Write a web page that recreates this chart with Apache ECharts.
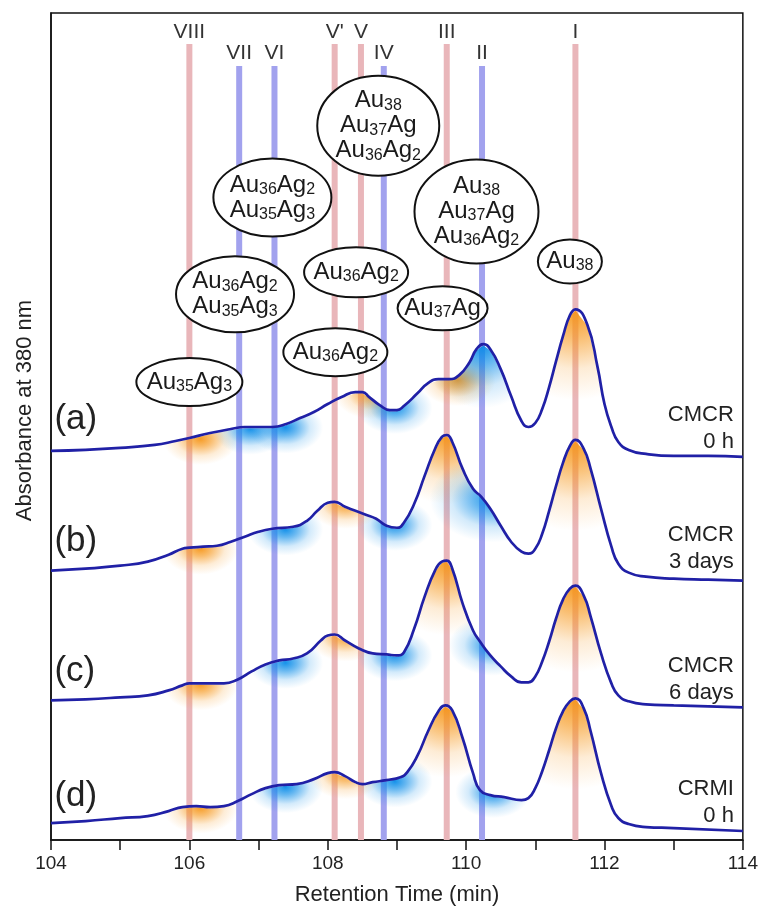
<!DOCTYPE html>
<html><head><meta charset="utf-8">
<script src="https://cdn.jsdelivr.net/npm/echarts@6/dist/echarts.min.js"></script>
<style>html,body{margin:0;padding:0;background:#fff}#c{width:761px;height:911px}</style>
</head><body><div id="c"></div>
<script>
// ---- data (retention time in min, absorbance in arbitrary units incl. vertical offset) ----
const timeA = [104.0,104.5,105.0,105.5,105.8,106.0,106.3,106.6,106.8,107.0,107.2,107.4,107.6,107.8,108.0,108.2,108.4,108.5,108.6,108.75,108.9,109.0,109.1,109.3,109.45,109.6,109.75,109.9,110.05,110.15,110.25,110.35,110.5,110.65,110.8,110.9,111.0,111.1,111.2,111.3,111.4,111.5,111.58,111.75,111.9,112.0,112.1,112.2,112.35,112.6,113.0,113.5,114.0];
const absA  = [390,391,393,396,400,403,408,412,414,414,414,417,423,429,437,444,449,449,444,436,431,431,435,448,458,462,462,466,479,492,497,492,472,445,420,414,418,432,454,480,505,526,532,517,474,437,414,399,391,387,385,385,384];

const timeB = [104.0,104.5,105.0,105.4,105.7,105.9,106.0,106.2,106.4,106.6,106.8,107.0,107.2,107.5,107.7,107.85,108.0,108.1,108.25,108.4,108.55,108.7,108.85,109.0,109.1,109.25,109.4,109.55,109.65,109.72,109.8,109.95,110.1,110.22,110.35,110.5,110.65,110.8,110.9,111.0,111.1,111.2,111.3,111.4,111.5,111.58,111.7,111.8,111.95,112.1,112.2,112.35,112.6,113.0,113.5,114.0];
const absB  = [270,272,275,279,286,292,293,294,295,299,304,309,312,314,320,330,338,339,334,330,326,322,315,313,318,337,365,392,404,406,399,372,352,344,332,315,299,289,287,292,307,330,355,378,395,401,392,372,332,294,277,268,264,262,261,260];

const timeC = [104.0,104.5,105.0,105.4,105.7,105.9,106.0,106.3,106.5,106.7,106.9,107.1,107.3,107.5,107.7,107.9,108.0,108.1,108.25,108.45,108.65,108.85,109.0,109.1,109.25,109.4,109.55,109.65,109.72,109.8,109.95,110.1,110.2,110.35,110.5,110.65,110.8,110.9,111.0,111.1,111.2,111.3,111.4,111.5,111.58,111.7,111.8,111.95,112.1,112.2,112.35,112.6,113.0,114.0];
const absC  = [140,141,143,145,150,155,157,157,157,161,169,176,180,182,187,200,205,206,200,192,187,186,185,188,212,244,270,279,280,272,237,210,199,185,174,164,158,158,164,179,199,222,241,252,255,245,224,187,157,145,139,136,135,133];

const timeD = [104.0,104.5,105.0,105.4,105.7,105.9,106.1,106.3,106.5,106.7,106.9,107.1,107.3,107.55,107.8,108.0,108.1,108.25,108.4,108.5,108.65,108.85,109.05,109.15,109.3,109.45,109.6,109.7,109.8,109.95,110.1,110.2,110.35,110.55,110.8,110.9,111.0,111.1,111.2,111.3,111.4,111.5,111.58,111.7,111.8,111.95,112.1,112.2,112.35,112.6,113.0,114.0];
const absD  = [17,19,22,24,29,33,34,33,34,39,46,52,55,56,61,67,68,64,58,56,58,60,63,68,85,109,129,135,130,102,67,50,45,43,40,42,52,69,90,112,129,139,142,132,109,67,34,22,16,13,12,9];

const traceNames = ['(a)','(b)','(c)','(d)'];
const traceNotes = ['CMCR\n0 h','CMCR\n3 days','CMCR\n6 days','CRMI\n0 h'];

const bandNames = ['VIII','VII','VI',"V'",'V','IV','III','II','I'];
const bandTimes = [106.0,106.72,107.23,108.1,108.48,108.81,109.72,110.23,111.58];
const bandKinds = ['pink','blue','blue','pink','pink','blue','pink','blue','pink'];

const glowA = ['VIII','VII','VI','V','IV','III','II','I'];
const glowB = ['VIII','VI',"V'",'IV','III','II','I'];
const glowC = ['VIII','VI',"V'",'IV','III','II','I'];
const glowD = ['VIII','VI',"V'",'IV','III','II','I'];

const annoLines = [
  ['Au35Ag3'],
  ['Au36Ag2','Au35Ag3'],
  ['Au36Ag2','Au35Ag3'],
  ['Au36Ag2'],
  ['Au36Ag2'],
  ['Au38','Au37Ag','Au36Ag2'],
  ['Au38','Au37Ag','Au36Ag2'],
  ['Au37Ag'],
  ['Au38']
];
const annoTime = [106.0,106.66,107.2,108.11,108.41,108.73,110.15,109.66,111.5];
const annoAbs  = [459,547,644,489,569,716,630,533,580];

// ---- layout (pixels) ----
const annoRadii = [[53,24],[59,38],[59,39],[52,24],[52,25],[61,50],[62,52],[45,22],[32,22]];
const FONT = '"Liberation Sans", Arial, sans-serif';
const traceSets = [[timeA,absA,glowA],[timeB,absB,glowB],[timeC,absC,glowC],[timeD,absD,glowD]];
const labelAt = [[104.05,422],[104.05,299],[104.05,169],[104.05,44]];
const noteAt  = [[113.87,413],[113.87,292],[113.87,161],[113.87,38]];

function interp(ts, vs, x){
  if (x <= ts[0]) return vs[0];
  for (let i = 1; i < ts.length; i++){
    if (x <= ts[i]){ const f = (x - ts[i-1]) / (ts[i] - ts[i-1]); return vs[i-1] + f * (vs[i] - vs[i-1]); }
  }
  return vs[vs.length-1];
}

const series = [];
// bands
series.push({
  type:'custom', silent:true, z:1, clip:false,
  data: bandTimes.map((t,i)=>[t,i]),
  renderItem(params, api){
    const i = params.dataIndex;
    const p = api.coord([api.value(0), 0]);
    const top = params.coordSys.y;
    const pink = bandKinds[i] === 'pink';
    const y0 = top + (pink ? 31 : 53);
    return {type:'group', children:[
      {type:'rect', shape:{x:p[0]-3, y:y0, width:6, height:p[1]-y0}, style:{fill: pink ? '#e9b6ba' : '#a2a2ee'}},
      {type:'text', x:p[0], y: top + (pink ? 19 : 40), style:{text:bandNames[i], align:'center', verticalAlign:'middle', font:'21px ' + FONT, fill:'#333'}}
    ]};
  }
});
// glows: radial (elliptical for small features) fade below the curve, clipped by the curve
traceSets.forEach(([ts, vs, gl]) => {
  series.push({
    type:'custom', silent:true, z:2, clip:true,
    data: gl.map(n => [bandTimes[bandNames.indexOf(n)], bandNames.indexOf(n)]),
    renderItem(params, api){
      const bx = api.value(0), bi = api.value(1);
      const vb = interp(ts, vs, bx);
      let vmin = vb;
      for (let x = bx - 0.6; x <= bx + 0.6; x += 0.02) vmin = Math.min(vmin, interp(ts, vs, x));
      const pxMin = api.coord([bx + 1, 0])[0] - api.coord([bx, 0])[0];
      const pxUnit = api.coord([bx, 0])[1] - api.coord([bx, 1])[1];
      const R = Math.max(26, Math.min(90, (vb - vmin) * pxUnit * 0.8));
      const small = R < 45;
      const s = small ? 1.45 : 1;         // horizontal stretch
      const dx = small ? 11 : 0;          // shadow leans to the right
      const c = api.coord([bx, vb]);
      const Rh = R * s;
      const top = [], bot = [];
      const x0 = bx - (Rh + 4 - dx) / pxMin, x1 = bx + (Rh + dx + 4) / pxMin;
      for (let x = x0; x <= x1 + 1e-9; x += 0.02){
        const p = api.coord([x, interp(ts, vs, x)]);
        top.push([(p[0] - c[0]) / s, p[1] - c[1] + 1.2]);
        bot.push([(p[0] - c[0]) / s, Math.max(p[1], c[1]) - c[1] + R + 4]);
      }
      const col = bandKinds[bi] === 'pink' ? '246,150,25' : '10,140,232';
      return {type:'polygon', x:c[0], y:c[1], scaleX:s, shape:{points: top.concat(bot.reverse())},
        style:{fill:{type:'radial', x:dx / s, y:1, r:R, global:true, colorStops:[
          {offset:0, color:'rgba('+col+',0.95)'},{offset:0.3, color:'rgba('+col+',0.62)'},{offset:0.65, color:'rgba('+col+',0.18)'},{offset:1, color:'rgba('+col+',0)'}]}}};
    }
  });
});
// lines
traceSets.forEach(([ts, vs], k) => {
  series.push({type:'line', name:traceNames[k], data: ts.map((t,i)=>[t, vs[i]]), showSymbol:false, symbol:'none',
    smooth:0.5, z:3, lineStyle:{color:'#2020a6', width:2.7}, silent:true});
});
// trace labels and notes
series.push({
  type:'custom', silent:true, z:5, clip:false,
  data: labelAt.map((p,i)=>[p[0], p[1], i]),
  renderItem(params, api){
    const c = api.coord([api.value(0), api.value(1)]);
    return {type:'text', x:c[0], y:c[1], style:{text:traceNames[params.dataIndex], align:'left', verticalAlign:'middle', font:'35px ' + FONT, fill:'#222'}};
  }
});
series.push({
  type:'custom', silent:true, z:5, clip:false,
  data: noteAt.map((p,i)=>[p[0], p[1], i]),
  renderItem(params, api){
    const c = api.coord([api.value(0), api.value(1)]);
    return {type:'text', x:c[0], y:c[1], style:{text:traceNotes[params.dataIndex], align:'right', verticalAlign:'middle', font:'22px ' + FONT, lineHeight:27, fill:'#222'}};
  }
});
// annotations
series.push({
  type:'custom', silent:true, z:6, clip:false,
  data: annoTime.map((t,i)=>[t, annoAbs[i], i]),
  renderItem(params, api){
    const i = params.dataIndex;
    const c = api.coord([api.value(0), api.value(1)]);
    const [rx, ry] = annoRadii[i];
    const text = annoLines[i].map(l => l.replace(/(\d+)/g, '{s|$1}')).join('\n');
    return {type:'group', children:[
      {type:'ellipse', shape:{cx:c[0], cy:c[1], rx:rx, ry:ry}, style:{fill:'#fff', stroke:'#111', lineWidth:2}},
      {type:'text', x:c[0], y:c[1], style:{text:text, align:'center', verticalAlign:'middle', font:'24px ' + FONT, lineHeight:25, fill:'#1a1a1a',
        rich:{s:{fontSize:16, fontFamily:FONT, lineHeight:12, verticalAlign:'bottom', fill:'#1a1a1a'}}}}
    ]};
  }
});

const chart = echarts.init(document.getElementById('c'), null, {renderer:'canvas'});
chart.setOption({
  animation:false,
  backgroundColor:'#fff',
  grid:{left:51, right:14, top:13, bottom:69, show:true, borderColor:'#111', borderWidth:1.5},
  xAxis:{type:'value', min:104, max:114, interval:1,
    name:'Retention Time (min)', nameLocation:'middle', nameGap:44,
    nameTextStyle:{fontFamily:FONT, fontSize:22, color:'#222'},
    axisLine:{lineStyle:{color:'#111', width:1.5}},
    axisTick:{inside:false, length:10, lineStyle:{color:'#111', width:1.5}},
    axisLabel:{formatter: v => (v % 2 === 0 ? String(v) : ''), fontFamily:FONT, fontSize:19, color:'#222', margin:14},
    splitLine:{show:false}},
  yAxis:{type:'value', min:0, max:829,
    name:'Absorbance at 380 nm', nameLocation:'middle', nameGap:15, nameRotate:90,
    nameTextStyle:{fontFamily:FONT, fontSize:22, color:'#222', padding:[0,0,0,32]},
    axisLine:{show:true, lineStyle:{color:'#111', width:1.5}}, axisTick:{show:false}, axisLabel:{show:false}, splitLine:{show:false}},
  series: series
});
</script>
</body></html>
